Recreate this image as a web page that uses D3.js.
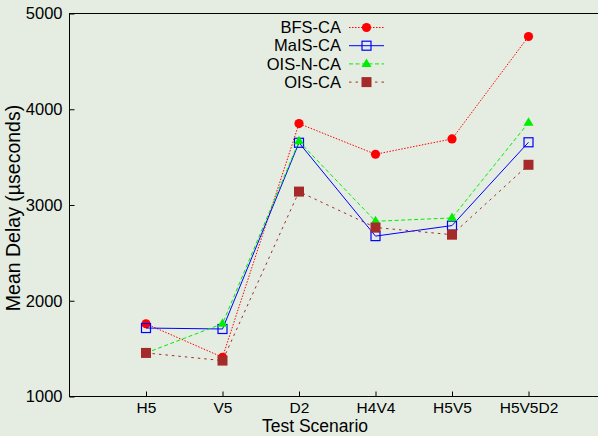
<!DOCTYPE html>
<html>
<head>
<meta charset="utf-8">
<script src="https://cdn.jsdelivr.net/npm/d3@7"></script>
<style>
  body { margin: 0; background: #e5ede3; }
  svg { display: block; }
</style>
</head>
<body>
<div id="chart"></div>
<script>
// chart data
var scenarios = ["H5", "V5", "D2", "H4V4", "H5V5", "H5V5D2"];
var bfsCA   = [1760, 1410, 3850, 3530, 3690, 4760];
var maisCA  = [1715, 1705, 3650, 2675, 2785, 3655];
var oisNCA  = [1455, 1760, 3665, 2830, 2865, 3860];
var oisCA   = [1455, 1375, 3140, 2765, 2690, 3420];
var seriesNames = ["BFS-CA", "MaIS-CA", "OIS-N-CA", "OIS-CA"];
var yTicks = [1000, 2000, 3000, 4000, 5000];

var svgWidth = 598;
var svgHeight = 436;

var svg = d3.select("#chart")
  .append("svg")
  .attr("width", svgWidth)
  .attr("height", svgHeight)
  .style("font-family", "'Liberation Sans', Arial, sans-serif");

svg.append("rect")
  .attr("width", svgWidth)
  .attr("height", svgHeight)
  .attr("fill", "#e5ede3");

// scales (x index 0..7, category i sits at i+1)
var xScale = d3.scaleLinear().domain([0, 7]).range([69.5, 605]);
var yScale = d3.scaleLinear().domain([1000, 5000]).range([396.5, 13.5]);

// frame
svg.append("rect")
  .attr("x", xScale(0))
  .attr("y", yScale(5000))
  .attr("width", xScale(7) - xScale(0))
  .attr("height", yScale(1000) - yScale(5000))
  .attr("fill", "none")
  .attr("stroke", "black")
  .attr("stroke-width", 1);

// y axis
var yAxis = d3.axisLeft(yScale)
  .tickValues(yTicks)
  .tickFormat(d3.format("d"))
  .tickSize(-5)
  .tickPadding(7);
var gy = svg.append("g")
  .attr("transform", `translate(${xScale(0)},0)`)
  .call(yAxis);
gy.select(".domain").remove();
gy.selectAll("text").attr("font-size", "16.5px").attr("fill", "black").attr("font-family", "'Liberation Sans', Arial, sans-serif");

// x axis
var xAxis = d3.axisBottom(xScale)
  .tickValues(d3.range(1, scenarios.length + 1))
  .tickFormat(d => scenarios[d - 1])
  .tickSize(-5)
  .tickPadding(5.5);
var gx = svg.append("g")
  .attr("transform", `translate(0,${yScale(1000)})`)
  .call(xAxis);
gx.select(".domain").remove();
gx.selectAll("text").attr("font-size", "15.5px").attr("fill", "black").attr("font-family", "'Liberation Sans', Arial, sans-serif");

// axis titles
svg.append("text")
  .attr("x", 315)
  .attr("y", 432)
  .attr("text-anchor", "middle")
  .attr("font-size", "17.5px")
  .attr("fill", "black")
  .text("Test Scenario");

svg.append("text")
  .attr("transform", "translate(20,208) rotate(-90)")
  .attr("text-anchor", "middle")
  .attr("font-size", "19.5px")
  .attr("fill", "black")
  .text("Mean Delay (µseconds)");

var line = d3.line()
  .x((d, i) => xScale(i + 1))
  .y(d => yScale(d));

var series = [
  { name: seriesNames[0], values: bfsCA,  color: "#ff0000", dash: "1.5,1.5", marker: "circle" },
  { name: seriesNames[1], values: maisCA, color: "#0000ff", dash: null,      marker: "square" },
  { name: seriesNames[2], values: oisNCA, color: "#00ee00", dash: "4,2.5",   marker: "triangle" },
  { name: seriesNames[3], values: oisCA,  color: "#a52a2a", dash: "2.5,4",   marker: "fsquare" }
];

function drawMarker(g, type, color, x, y) {
  if (type === "circle") {
    g.append("circle").attr("cx", x).attr("cy", y).attr("r", 4.6).attr("fill", color);
  } else if (type === "square") {
    g.append("rect").attr("x", x - 4.5).attr("y", y - 4.5).attr("width", 9).attr("height", 9)
      .attr("fill", "none").attr("stroke", color).attr("stroke-width", 1.2);
  } else if (type === "triangle") {
    g.append("path")
      .attr("d", `M${x},${y - 5.5}L${x + 5},${y + 3}L${x - 5},${y + 3}Z`)
      .attr("fill", color);
  } else {
    g.append("rect").attr("x", x - 5).attr("y", y - 5).attr("width", 10).attr("height", 10)
      .attr("fill", color);
  }
}

series.forEach(function(s) {
  var g = svg.append("g");
  g.append("path")
    .datum(s.values)
    .attr("d", line)
    .attr("fill", "none")
    .attr("stroke", s.color)
    .attr("stroke-width", 1)
    .attr("stroke-dasharray", s.dash);
  s.values.forEach(function(v, i) {
    drawMarker(g, s.marker, s.color, xScale(i + 1), yScale(v));
  });
});

// legend
var legend = svg.append("g");
series.forEach(function(s, i) {
  var y = 27.5 + i * 18.2;
  legend.append("text")
    .attr("x", 341)
    .attr("y", y)
    .attr("dy", "0.35em")
    .attr("text-anchor", "end")
    .attr("font-size", "16.5px")
    .attr("fill", "black")
    .text(s.name);
  legend.append("line")
    .attr("x1", 349).attr("x2", 384)
    .attr("y1", y).attr("y2", y)
    .attr("stroke", s.color)
    .attr("stroke-width", 1)
    .attr("stroke-dasharray", s.dash);
  drawMarker(legend, s.marker, s.color, 366.5, y);
});
</script>
</body>
</html>
